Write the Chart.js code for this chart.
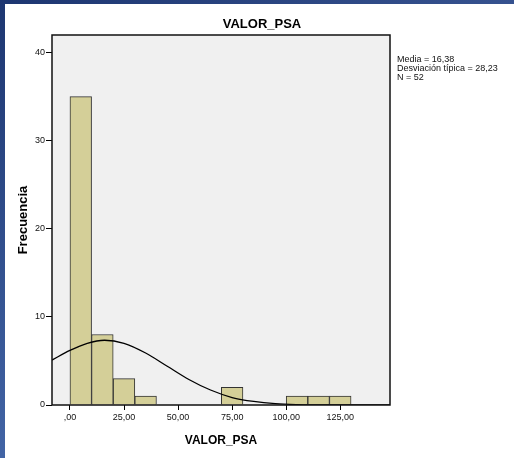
<!DOCTYPE html>
<html>
<head>
<meta charset="utf-8">
<script src="https://cdn.jsdelivr.net/npm/chart.js@4.4.1/dist/chart.umd.min.js"></script>
<style>
  html, body { margin: 0; padding: 0; background: #fff; }
  #wrap { position: relative; width: 514px; height: 458px; overflow: hidden; }
  #chart { position: absolute; left: 0; top: 0; }
  .band-top { position: absolute; left: 0; top: 0; width: 514px; height: 4px;
              background: linear-gradient(to right, #1d3671, #36528f); z-index: 2; }
  .band-left { position: absolute; left: 0; top: 0; width: 5px; height: 458px;
               background: linear-gradient(to bottom, #1d3671, #4264a5); z-index: 2; }
</style>
</head>
<body>
<div id="wrap">
  <div class="band-top"></div>
  <div class="band-left"></div>
  <canvas id="chart" width="514" height="458"></canvas>
</div>
<script>
// histogram bins (midpoints, bin width 10) and counts
var binCenters = [5, 15, 25, 35, 75, 105, 115, 125];
var binCounts  = [35, 8, 3, 1, 2, 1, 1, 1];

// normal curve
var curveX = [-8.3, 0, 8, 16, 25, 35, 45, 55, 65, 75, 85, 95, 105, 115, 130, 148];
var curveY = [5.1, 6.2, 7.0, 7.35, 7.0, 5.9, 4.4, 2.9, 1.7, 0.85, 0.4, 0.15, 0.05, 0.02, 0, 0];

var xTickValues = [0, 25, 50, 75, 100, 125];
var xTickLabels = [',00', '25,00', '50,00', '75,00', '100,00', '125,00'];
var yTickValues = [0, 10, 20, 30, 40];
var yTickLabels = ['0', '10', '20', '30', '40'];

var chartTitle = 'VALOR_PSA';
var xTitle = 'VALOR_PSA';
var yTitle = 'Frecuencia';
var statsLines = ['Media = 16,38', 'Desviación típica = 28,23', 'N = 52'];

var barData = binCenters.map(function (c, i) { return {x: c, y: binCounts[i]}; });
var curveData = curveX.map(function (x, i) { return {x: x, y: curveY[i]}; });

var decor = {
    id: 'decor',
    beforeDraw: function (chart) {
        var a = chart.chartArea, c = chart.ctx;
        c.save();
        c.fillStyle = '#f0f0f0';
        c.fillRect(a.left, a.top, a.right - a.left, a.bottom - a.top);
        c.restore();
    },
    afterDraw: function (chart) {
        var a = chart.chartArea, c = chart.ctx;
        c.save();
        c.strokeStyle = '#111';
        c.lineWidth = 1.5;
        c.strokeRect(a.left, a.top, a.right - a.left, a.bottom - a.top);
        c.fillStyle = '#000';
        c.textAlign = 'center';
        c.textBaseline = 'middle';
        c.font = 'bold 13px "Liberation Sans", Arial, sans-serif';
        c.fillText(chartTitle, 262, 24);
        c.textAlign = 'left';
        c.font = '9px "Liberation Sans", Arial, sans-serif';
        c.fillStyle = '#111';
        for (var i = 0; i < statsLines.length; i++) {
            c.fillText(statsLines[i], 397, 60 + i * 8.6);
        }
        c.restore();
    }
};

var ctx = document.getElementById('chart').getContext('2d');
var chart = new Chart(ctx, {
    data: {
        datasets: [{
            type: 'line',
            data: curveData,
            borderColor: '#000',
            borderWidth: 1.3,
            pointRadius: 0,
            cubicInterpolationMode: 'monotone',
            fill: false
        }, {
            type: 'bar',
            data: barData,
            backgroundColor: '#d4cf98',
            borderColor: '#333',
            borderWidth: 1,
            barPercentage: 1,
            categoryPercentage: 1
        }]
    },
    options: {
        responsive: false,
        animation: false,
        layout: { padding: { left: 5, right: 124, top: 35, bottom: 0 } },
        plugins: { legend: { display: false }, tooltip: { enabled: false } },
        scales: {
            x: {
                type: 'linear',
                min: -8.3,
                max: 148,
                offset: false,
                afterFit: function (s) { s.height = 53; },
                afterBuildTicks: function (s) {
                    s.ticks = xTickValues.map(function (v) { return {value: v}; });
                },
                ticks: {
                    color: '#111',
                    padding: 2,
                    maxRotation: 0,
                    font: { family: '"Liberation Sans", Arial', size: 9 },
                    callback: function (v) { return xTickLabels[xTickValues.indexOf(v)]; }
                },
                grid: { offset: false, drawOnChartArea: false, drawTicks: true, tickLength: 5, color: '#000' },
                border: { display: false },
                title: {
                    display: true, text: xTitle, color: '#000',
                    font: { family: '"Liberation Sans", Arial', size: 12, weight: 'bold' },
                    padding: { top: 0, bottom: 10 }
                }
            },
            y: {
                type: 'linear',
                min: 0,
                max: 42,
                afterFit: function (s) { s.width = 47; },
                afterBuildTicks: function (s) {
                    s.ticks = yTickValues.map(function (v) { return {value: v}; });
                },
                ticks: {
                    color: '#111',
                    padding: 1,
                    font: { family: '"Liberation Sans", Arial', size: 9 },
                    callback: function (v) { return yTickLabels[yTickValues.indexOf(v)]; }
                },
                grid: { offset: false, drawOnChartArea: false, drawTicks: true, tickLength: 6, color: '#000' },
                border: { display: false },
                title: {
                    display: true, text: yTitle, color: '#000',
                    font: { family: '"Liberation Sans", Arial', size: 13, weight: 'bold' },
                    padding: { top: 11, bottom: 0 }
                }
            }
        }
    },
    plugins: [decor]
});
</script>
</body>
</html>
